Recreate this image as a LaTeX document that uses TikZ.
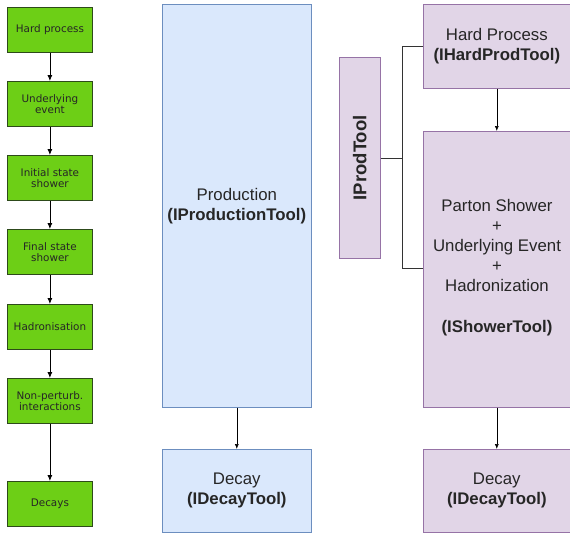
\documentclass[tikz,border=0pt]{standalone}
\usepackage{fontspec}
\setmainfont{Liberation Sans}
\newfontfamily\dejavu{DejaVu Sans}
\usetikzlibrary{arrows.meta}
\definecolor{stepgreen}{HTML}{6DCF16}
\definecolor{stepedge}{HTML}{2D4A1A}
\definecolor{bluefill}{HTML}{DAE8FC}
\definecolor{blueedge}{HTML}{6C8EBF}
\definecolor{purplefill}{HTML}{E1D5E7}
\definecolor{purpleedge}{HTML}{9673A6}
\begin{document}
\begin{tikzpicture}[x=1pt,y=-1pt,
  stepbox/.style={draw=stepedge,fill=stepgreen,line width=0.8pt,anchor=north west,
    minimum width=85pt,minimum height=45pt,align=center,inner sep=0pt,
    font=\dejavu\fontsize{10.4}{11.5}\selectfont,text=black!85},
  bluebox/.style={draw=blueedge,fill=bluefill,line width=0.6pt,anchor=north west,
    minimum width=149pt,align=center,inner sep=0pt,
    font=\fontsize{16.8}{20}\selectfont,text=black!85},
  purplebox/.style={draw=purpleedge,fill=purplefill,line width=0.6pt,anchor=north west,
    align=center,inner sep=0pt,font=\fontsize{16.8}{20}\selectfont,text=black!85},
  flow/.style={draw=black,line width=0.8pt,-{Latex[length=6pt,width=5pt]}},
  thinflow/.style={draw=black,line width=0.6pt,-{Latex[length=5pt,width=4pt]}},
  link/.style={draw=black!80,line width=0.9pt}
]
\useasboundingbox (0,0) rectangle (570,535);
\fill[white] (0,0) rectangle (570,535);

% generic event-generation chain
\node[stepbox] (hp) at (7,7) {Hard process};
\node[stepbox] (ue) at (7,81) {Underlying\\event};
\node[stepbox] (is) at (7,155) {Initial state\\shower};
\node[stepbox] (fs) at (7,229) {Final state\\shower};
\node[stepbox] (ha) at (7,304) {Hadronisation};
\node[stepbox] (np) at (7,378) {Non-perturb.\\interactions};
\node[stepbox] (de) at (7,481) {Decays};
\draw[flow] (hp) -- (ue);
\draw[flow] (ue) -- (is);
\draw[flow] (is) -- (fs);
\draw[flow] (fs) -- (ha);
\draw[flow] (ha) -- (np);
\draw[flow] (np) -- (de);

% production / decay tools
\node[bluebox,minimum height=403pt] (prod) at (162,4)
  {Production\\\textbf{(IProductionTool)}};
\node[bluebox,minimum height=83pt] (dec) at (162,449)
  {Decay\\\textbf{(IDecayTool)}};
\draw[thinflow] (prod) -- (dec);

% split of the production tool
\node[purplebox,minimum width=41pt,minimum height=201pt] (ipt) at (339,57)
  {\rotatebox{90}{\fontsize{18.5}{20}\selectfont\textbf{IProdTool}}};
\node[purplebox,minimum width=147pt,minimum height=84pt] (hard) at (423,4)
  {Hard Process\\\textbf{(IHardProdTool)}};
\node[purplebox,minimum width=147pt,minimum height=276pt] (shower) at (423,131) {};
\node[align=center,font=\fontsize{16.8}{20}\selectfont,text=black!85,anchor=north] (showertxt) at (497,196)
  {Parton Shower\\+\\Underlying Event\\+\\Hadronization\\[21pt]\textbf{(IShowerTool)}};
\node[purplebox,minimum width=147pt,minimum height=83pt] (dec2) at (423,449)
  {Decay\\\textbf{(IDecayTool)}};
\draw[thinflow] (hard) -- (shower.north);
\draw[thinflow] (shower) -- (dec2);

\coordinate (fork) at (402,158);
\draw[link] (ipt.east |- fork) -- (fork);
\draw[link] (hard.west |- 0,46) -| (fork |- 0,268) -- (shower.west |- 0,268);
\end{tikzpicture}
\end{document}
